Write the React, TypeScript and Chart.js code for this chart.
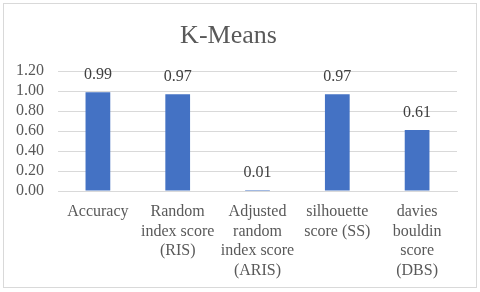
import React, { useEffect, useRef } from "react";
import { Chart, registerables } from "chart.js";

Chart.register(...registerables);

const titleText = "K-Means";
const categories: (string | string[])[] = [
  "Accuracy",
  ["Random", "index score", "(RIS)"],
  ["Adjusted", "random", "index score", "(ARIS)"],
  ["silhouette", "score (SS)"],
  ["davies", "bouldin", "score", "(DBS)"],
];
const scores = [0.99, 0.97, 0.01, 0.97, 0.61];
const yMin = 0;
const yMax = 1.2;
const yStep = 0.2;

const FONT = "'Liberation Serif', 'Times New Roman', serif";
const TEXT = "#595959";

const framePlugin = {
  id: "frame",
  beforeDraw(chart: any) {
    const ctx = chart.ctx;
    ctx.save();
    ctx.fillStyle = "#ffffff";
    ctx.fillRect(0, 0, chart.width, chart.height);
    ctx.strokeStyle = "#d9d9d9";
    ctx.lineWidth = 1;
    ctx.strokeRect(3.5, 3.5, chart.width - 7, chart.height - 8);
    ctx.restore();
  },
};

const valueLabelPlugin = {
  id: "valueLabels",
  afterDatasetsDraw(chart: any) {
    const ctx = chart.ctx;
    const meta = chart.getDatasetMeta(0);
    const data = chart.data.datasets[0].data as number[];
    ctx.save();
    ctx.font = `16px ${FONT}`;
    ctx.fillStyle = "#404040";
    ctx.textAlign = "center";
    ctx.textBaseline = "middle";
    meta.data.forEach((bar: any, i: number) => {
      ctx.fillText(data[i].toFixed(2), bar.x, bar.y - 17);
    });
    ctx.restore();
  },
};

export default function App() {
  const ref = useRef<HTMLCanvasElement | null>(null);
  useEffect(() => {
    if (!ref.current) return;
    const chart = new Chart(ref.current, {
      type: "bar",
      data: {
        labels: categories,
        datasets: [
          {
            data: scores,
            backgroundColor: "#4472C4",
            barPercentage: 0.31,
            categoryPercentage: 1,
          },
        ],
      },
      options: {
        responsive: false,
        animation: false,
        layout: { padding: { left: 0, right: 23, top: 0, bottom: 0 } },
        plugins: {
          legend: { display: false },
          tooltip: { enabled: false },
          title: {
            display: true,
            text: titleText,
            color: TEXT,
            font: { family: FONT, size: 26, weight: "normal" },
            padding: { top: 21, bottom: 19 },
          },
        },
        scales: {
          x: {
            grid: { display: false, drawTicks: false },
            border: { display: true, color: "#d9d9d9" },
            ticks: {
              color: TEXT,
              font: { family: FONT, size: 16, lineHeight: 1.23 },
              padding: 11,
              maxRotation: 0,
              autoSkip: false,
            },
            afterFit(scale: any) {
              scale.height = 101;
            },
          },
          y: {
            min: yMin,
            max: yMax,
            grid: { color: "#d9d9d9", drawTicks: false },
            border: { display: false },
            ticks: {
              stepSize: yStep,
              autoSkip: false,
              color: TEXT,
              font: { family: FONT, size: 16 },
              padding: 14,
              callback: (v: any) => Number(v).toFixed(2),
            },
            afterFit(scale: any) {
              scale.width = 58;
            },
          },
        },
      },
      plugins: [framePlugin, valueLabelPlugin],
    });
    return () => chart.destroy();
  }, []);
  return (
    <div style={{ position: "absolute", left: 0, top: 0, width: 480, height: 292 }}>
      <canvas ref={ref} width={480} height={292} />
    </div>
  );
}
